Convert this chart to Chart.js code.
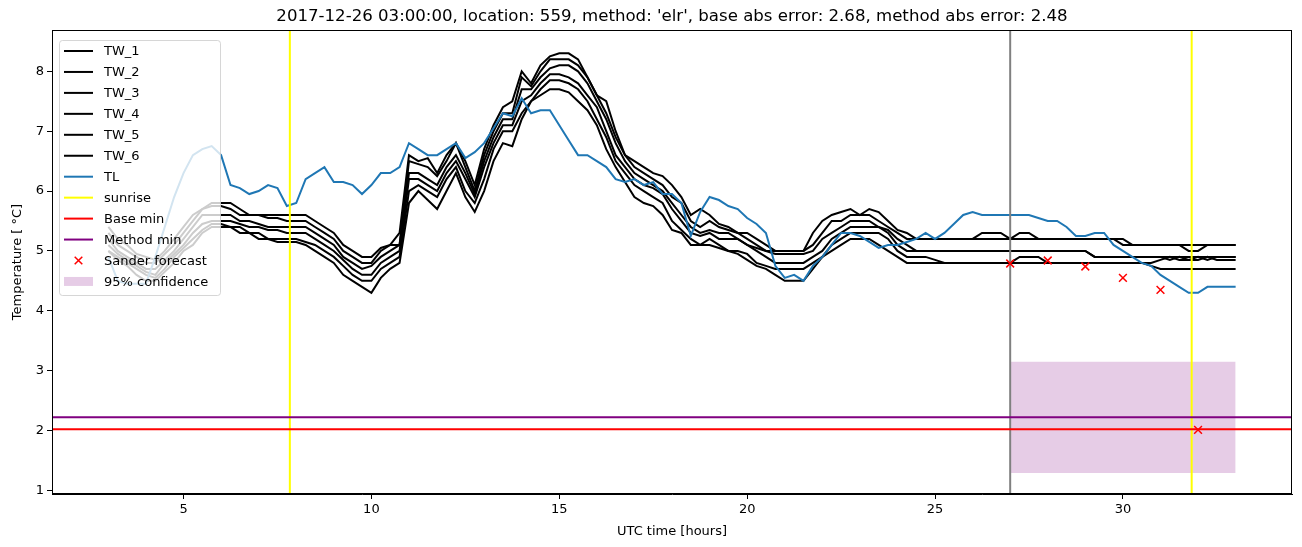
<!DOCTYPE html>
<html>
<head>
<meta charset="utf-8">
<script src="https://cdn.jsdelivr.net/npm/chart.js@4.4.1/dist/chart.umd.min.js"></script>
<style>
	html, body { margin: 0; padding: 0; background: #fff; }
	canvas { display: block; }
</style>
</head>
<body>
<canvas id="canvas" width="1302" height="547"></canvas>
<script>
// time axis: every quarter hour from 03:00 to 33:00
var hours = [];
for (var i = 0; i <= 120; i++) hours.push(3 + i / 4);

var xTicks = [5, 10, 15, 20, 25, 30];
var yTicks = [1, 2, 3, 4, 5, 6, 7, 8];

var titleText = "2017-12-26 03:00:00, location: 559, method: 'elr', base abs error: 2.68, method abs error: 2.48";

// one row per hour (4 quarter-hour values), last value is 33:00
var tw1 = [
	5.4, 5.2, 5.1, 4.95,   4.9, 4.85, 5.0, 5.2,   5.4, 5.6, 5.7, 5.8,
	5.8, 5.8, 5.7, 5.6,    5.6, 5.6, 5.6, 5.6,    5.6, 5.6, 5.5, 5.4,
	5.3, 5.1, 5.0, 4.9,    4.9, 5.05, 5.1, 5.3,   6.6, 6.5, 6.55, 6.3,
	6.6, 6.8, 6.5, 6.1,    6.7, 7.1, 7.4, 7.5,    8.0, 7.8, 8.1, 8.25,
	8.3, 8.3, 8.2, 7.9,    7.6, 7.5, 7.0, 6.6,    6.5, 6.4, 6.3, 6.25,
	6.1, 5.9, 5.6, 5.7,    5.6, 5.45, 5.4, 5.3,   5.3, 5.2, 5.1, 5.0,
	5.0, 5.0, 5.0, 5.3,    5.5, 5.6, 5.65, 5.7,   5.6, 5.7, 5.65, 5.5,
	5.35, 5.3, 5.2, 5.2,   5.2, 5.2, 5.2, 5.2,    5.2, 5.3, 5.3, 5.3,
	5.2, 5.2, 5.2, 5.2,    5.2, 5.2, 5.2, 5.2,    5.2, 5.2, 5.2, 5.2,
	5.2, 5.1, 5.1, 5.1,    5.1, 5.1, 5.1, 5.1,    5.1, 5.1, 5.1, 5.1,
	5.1
];
var tw2 = [
	5.3, 5.1, 5.0, 4.9,    4.8, 4.8, 4.95, 5.1,   5.3, 5.5, 5.7, 5.75,
	5.75, 5.7, 5.6, 5.6,   5.6, 5.55, 5.55, 5.5,  5.5, 5.5, 5.4, 5.3,
	5.2, 5.0, 4.9, 4.8,    4.8, 5.0, 5.1, 5.1,    6.5, 6.45, 6.4, 6.25,
	6.5, 6.8, 6.4, 6.0,    6.6, 7.0, 7.3, 7.3,    7.9, 7.75, 8.0, 8.2,
	8.2, 8.2, 8.1, 7.9,    7.6, 7.3, 6.9, 6.6,    6.4, 6.3, 6.2, 6.1,
	5.9, 5.8, 5.5, 5.4,    5.5, 5.4, 5.35, 5.3,   5.2, 5.1, 5.0, 5.0,
	5.0, 5.0, 5.0, 5.1,    5.3, 5.5, 5.5, 5.6,    5.6, 5.6, 5.5, 5.4,
	5.3, 5.2, 5.2, 5.2,    5.2, 5.2, 5.2, 5.2,    5.2, 5.2, 5.2, 5.2,
	5.2, 5.3, 5.3, 5.2,    5.2, 5.2, 5.2, 5.2,    5.2, 5.2, 5.2, 5.2,
	5.1, 5.1, 5.1, 5.1,    5.1, 5.1, 5.1, 5.0,    5.0, 5.1, 5.1, 5.1,
	5.1
];
var tw3 = [
	5.2, 5.0, 4.9, 4.8,    4.7, 4.7, 4.85, 5.0,   5.2, 5.4, 5.6, 5.6,
	5.6, 5.6, 5.5, 5.5,    5.45, 5.4, 5.4, 5.4,   5.4, 5.4, 5.3, 5.2,
	5.1, 4.9, 4.8, 4.7,    4.75, 4.9, 5.0, 5.1,   6.3, 6.3, 6.2, 6.1,
	6.4, 6.6, 6.3, 5.95,   6.5, 6.9, 7.2, 7.2,    7.7, 7.7, 7.9, 8.05,
	8.1, 8.1, 8.0, 7.8,    7.5, 7.2, 6.8, 6.5,    6.3, 6.2, 6.1, 6.0,
	5.8, 5.6, 5.4, 5.3,    5.35, 5.3, 5.3, 5.2,   5.1, 5.05, 5.0, 4.95,
	4.95, 4.95, 4.95, 5.0, 5.2, 5.3, 5.4, 5.5,    5.5, 5.5, 5.4, 5.35,
	5.2, 5.1, 5.0, 5.0,    5.0, 5.0, 5.0, 5.0,    5.0, 5.0, 5.0, 5.0,
	5.0, 5.0, 5.0, 5.0,    5.0, 5.0, 5.0, 5.0,    5.0, 4.9, 4.9, 4.9,
	4.9, 4.9, 4.9, 4.9,    4.9, 4.9, 4.9, 4.9,    4.9, 4.9, 4.9, 4.9,
	4.9
];
var tw4 = [
	5.1, 4.95, 4.85, 4.75, 4.65, 4.6, 4.8, 4.95,  5.1, 5.3, 5.45, 5.5,
	5.5, 5.5, 5.45, 5.4,   5.4, 5.35, 5.35, 5.3,  5.3, 5.3, 5.2, 5.1,
	5.0, 4.85, 4.7, 4.6,   4.6, 4.8, 4.9, 5.0,    6.2, 6.2, 6.1, 6.0,
	6.3, 6.5, 6.2, 5.9,    6.4, 6.8, 7.1, 7.1,    7.5, 7.6, 7.8, 7.95,
	7.95, 7.9, 7.8, 7.6,   7.4, 7.0, 6.6, 6.4,    6.2, 6.1, 6.05, 5.95,
	5.7, 5.5, 5.3, 5.25,   5.3, 5.2, 5.2, 5.2,    5.1, 5.0, 4.9, 4.8,
	4.8, 4.8, 4.8, 4.9,    5.0, 5.2, 5.3, 5.4,    5.4, 5.4, 5.4, 5.3,
	5.1, 5.0, 5.0, 5.0,    5.0, 5.0, 5.0, 5.0,    5.0, 5.0, 5.0, 5.0,
	5.0, 5.0, 5.0, 5.0,    5.0, 5.0, 5.0, 5.0,    5.0, 4.9, 4.9, 4.9,
	4.9, 4.9, 4.9, 4.9,    4.9, 4.85, 4.9, 4.85,  4.9, 4.85, 4.9, 4.9,
	4.9
];
var tw5 = [
	5.0, 4.9, 4.8, 4.7,    4.6, 4.55, 4.7, 4.9,   5.05, 5.2, 5.35, 5.45,
	5.45, 5.4, 5.4, 5.3,   5.3, 5.2, 5.2, 5.2,    5.2, 5.15, 5.1, 5.0,
	4.9, 4.75, 4.6, 4.5,   4.5, 4.7, 4.8, 4.9,    6.0, 6.1, 6.0, 5.9,
	6.2, 6.4, 6.0, 5.8,    6.2, 6.7, 7.0, 7.0,    7.3, 7.5, 7.7, 7.85,
	7.85, 7.8, 7.7, 7.5,   7.2, 6.9, 6.5, 6.3,    6.1, 6.0, 5.9, 5.8,
	5.5, 5.35, 5.2, 5.1,   5.2, 5.1, 5.0, 5.0,    4.95, 4.8, 4.75, 4.7,
	4.7, 4.7, 4.7, 4.8,    4.9, 5.1, 5.2, 5.3,    5.3, 5.3, 5.3, 5.2,
	5.0, 4.9, 4.9, 4.9,    4.85, 4.8, 4.8, 4.8,   4.8, 4.8, 4.8, 4.8,
	4.8, 4.9, 4.9, 4.9,    4.8, 4.8, 4.8, 4.8,    4.8, 4.8, 4.8, 4.8,
	4.8, 4.8, 4.8, 4.8,    4.85, 4.9, 4.85, 4.85, 4.85, 4.9, 4.85, 4.85,
	4.85
];
var tw6 = [
	5.0, 4.85, 4.75, 4.6,  4.5, 4.5, 4.65, 4.8,   5.0, 5.1, 5.3, 5.4,
	5.4, 5.4, 5.3, 5.3,    5.2, 5.2, 5.15, 5.15,  5.15, 5.1, 5.0, 4.9,
	4.8, 4.6, 4.5, 4.4,    4.3, 4.55, 4.7, 4.8,   5.8, 6.0, 5.85, 5.7,
	6.0, 6.3, 5.9, 5.65,   6.0, 6.5, 6.8, 6.75,   7.2, 7.5, 7.6, 7.7,
	7.7, 7.65, 7.5, 7.35,  7.1, 6.7, 6.4, 6.15,   5.9, 5.8, 5.75, 5.6,
	5.35, 5.3, 5.1, 5.1,   5.1, 5.05, 5.0, 4.95,  4.85, 4.75, 4.7, 4.6,
	4.5, 4.5, 4.5, 4.7,    4.9, 5.0, 5.1, 5.2,    5.2, 5.2, 5.1, 5.0,
	4.9, 4.8, 4.8, 4.8,    4.8, 4.8, 4.8, 4.8,    4.8, 4.8, 4.8, 4.8,
	4.8, 4.8, 4.8, 4.8,    4.8, 4.8, 4.8, 4.8,    4.8, 4.8, 4.8, 4.8,
	4.8, 4.8, 4.8, 4.75,   4.7, 4.7, 4.7, 4.7,    4.7, 4.7, 4.7, 4.7,
	4.7
];
var tl = [
	4.9, 4.5, 4.45, 4.45,  4.45, 4.9, 5.4, 5.9,   6.3, 6.6, 6.7, 6.75,
	6.6, 6.1, 6.05, 5.95,  6.0, 6.1, 6.05, 5.75,  5.8, 6.2, 6.3, 6.4,
	6.15, 6.15, 6.1, 5.95, 6.1, 6.3, 6.3, 6.4,    6.8, 6.7, 6.6, 6.6,
	6.7, 6.8, 6.55, 6.65,  6.8, 7.05, 7.3, 7.25,  7.55, 7.3, 7.35, 7.35,
	7.1, 6.85, 6.6, 6.6,   6.5, 6.4, 6.2, 6.15,   6.2, 6.1, 6.15, 5.95,
	5.95, 5.8, 5.25, 5.65, 5.9, 5.85, 5.75, 5.7,  5.55, 5.45, 5.3, 4.75,
	4.55, 4.6, 4.5, 4.75,  4.9, 5.1, 5.3, 5.3,    5.25, 5.15, 5.05, 5.1,
	5.1, 5.15, 5.2, 5.3,   5.2, 5.3, 5.45, 5.6,   5.65, 5.6, 5.6, 5.6,
	5.6, 5.6, 5.6, 5.55,   5.5, 5.5, 5.4, 5.25,   5.25, 5.3, 5.3, 5.1,
	5.0, 4.9, 4.8, 4.75,   4.6, 4.5, 4.4, 4.3,    4.3, 4.4, 4.4, 4.4,
	4.4
];

var sunriseHours   = [7.83, 31.83];
var forecastStart  = 27;
var baseMin        = 2.02;
var methodMin      = 2.22;
var sanderHours    = [27, 28, 29, 30, 31, 32];
var sanderValues   = [4.79, 4.84, 4.74, 4.55, 4.35, 2.01];
var confHours      = [27, 33];
var confLow        = 1.29;
var confHigh       = 3.15;

var xMin = 1.5, xMax = 34.5, yMin = 0.94, yMax = 8.69;

function series(vals) {
	return hours.map(function(h, i) { return {x: h, y: vals[i]}; });
}
function vline(x) { return [{x: x, y: yMin}, {x: x, y: yMax}]; }
function hline(y) { return [{x: xMin, y: y}, {x: xMax, y: y}]; }

var font = "'DejaVu Sans', 'Liberation Sans', sans-serif";

var datasets = [];
[tw1, tw2, tw3, tw4, tw5, tw6].forEach(function(v, i) {
	datasets.push({ label: 'TW_' + (i + 1), data: series(v), borderColor: '#000', borderWidth: 2,
		pointRadius: 0, inLegend: 'line', order: 20 - i });
});
datasets.push({ label: 'TL', data: series(tl), borderColor: '#1f77b4', borderWidth: 2,
	pointRadius: 0, inLegend: 'line', order: 10 });
sunriseHours.forEach(function(h, i) {
	datasets.push({ label: 'sunrise', data: vline(h), borderColor: '#ffff00', borderWidth: 2,
		pointRadius: 0, inLegend: i === 0 ? 'line' : null, order: 8 });
});
datasets.push({ label: 'now', data: vline(forecastStart), borderColor: '#808080', borderWidth: 2,
	pointRadius: 0, order: 8 });
datasets.push({ label: 'Base min', data: hline(baseMin), borderColor: '#ff0000', borderWidth: 2,
	pointRadius: 0, inLegend: 'line', order: 7 });
datasets.push({ label: 'Method min', data: hline(methodMin), borderColor: '#800080', borderWidth: 2,
	pointRadius: 0, inLegend: 'line', order: 6 });
datasets.push({ label: 'Sander forecast',
	data: sanderHours.map(function(h, i) { return {x: h, y: sanderValues[i]}; }),
	showLine: false, pointStyle: 'crossRot', pointRadius: 5.5, borderColor: '#ff0000',
	backgroundColor: '#ff0000', pointBorderWidth: 1.5, inLegend: 'cross', order: 1 });
datasets.push({ label: '95% confidence',
	data: confHours.map(function(h) { return {x: h, y: confHigh}; }),
	fill: { value: confLow }, backgroundColor: 'rgba(128,0,128,0.2)', borderWidth: 0,
	pointRadius: 0, inLegend: 'patch', order: 50 });

// box round the plot area, like the matplotlib spines, and the title over it
var frame = {
	id: 'frame',
	afterDatasetsDraw: function(chart) {
		var a = chart.chartArea, ctx = chart.ctx;
		ctx.save();
		ctx.strokeStyle = '#000';
		ctx.lineWidth = 1;
		ctx.strokeRect(a.left + 0.5, a.top + 0.5, a.right - a.left - 1, a.bottom - a.top - 1);
		ctx.fillStyle = '#000';
		ctx.font = '16.6px ' + font;
		ctx.textAlign = 'center';
		ctx.textBaseline = 'middle';
		ctx.fillText(titleText, (a.left + a.right) / 2, a.top - 13);
		ctx.restore();
	}
};

// legend inside the axes, upper left
var boxLegend = {
	id: 'boxLegend',
	afterDraw: function(chart) {
		var ctx = chart.ctx, a = chart.chartArea;
		var items = chart.data.datasets.filter(function(d) { return d.inLegend; });
		var x0 = a.left + 7, y0 = a.top + 10, w = 161, rowH = 20.95;
		var h = items.length * rowH + 3.6;
		ctx.save();
		ctx.beginPath();
		ctx.roundRect(x0 + 0.5, y0 + 0.5, w, h, 3);
		ctx.fillStyle = 'rgba(255,255,255,0.8)';
		ctx.fill();
		ctx.strokeStyle = 'rgba(204,204,204,0.8)';
		ctx.lineWidth = 1;
		ctx.stroke();
		ctx.font = '13px ' + font;
		ctx.textBaseline = 'middle';
		items.forEach(function(d, i) {
			var cy = y0 + 11 + i * rowH;
			var hx0 = x0 + 5, hx1 = x0 + 34;
			if (d.inLegend === 'line') {
				ctx.strokeStyle = d.borderColor;
				ctx.lineWidth = 2;
				ctx.beginPath();
				ctx.moveTo(hx0, cy);
				ctx.lineTo(hx1, cy);
				ctx.stroke();
			} else if (d.inLegend === 'cross') {
				var cx = (hx0 + hx1) / 2, r = 3.8;
				ctx.strokeStyle = d.borderColor;
				ctx.lineWidth = 1.5;
				ctx.beginPath();
				ctx.moveTo(cx - r, cy - r); ctx.lineTo(cx + r, cy + r);
				ctx.moveTo(cx - r, cy + r); ctx.lineTo(cx + r, cy - r);
				ctx.stroke();
			} else {
				ctx.fillStyle = d.backgroundColor;
				ctx.fillRect(hx0, cy - 4.5, hx1 - hx0, 9);
			}
			ctx.fillStyle = '#000';
			ctx.fillText(d.label, x0 + 45, cy + 1);
		});
		ctx.restore();
	}
};

var ctx = document.getElementById('canvas').getContext('2d');
var chart = new Chart(ctx, {
	type: 'line',
	data: { datasets: datasets },
	plugins: [frame, boxLegend],
	options: {
		responsive: false,
		animation: false,
		devicePixelRatio: 1,
		layout: { padding: { left: 0, right: 10, top: 30, bottom: 0 } },
		elements: { line: { tension: 0 } },
		plugins: {
			legend: { display: false },
			tooltip: { enabled: false },
			title: { display: false }
		},
		scales: {
			x: {
				type: 'linear', min: xMin, max: xMax,
				afterBuildTicks: function(s) { s.ticks = xTicks.map(function(v) { return {value: v}; }); },
				afterFit: function(s) { s.height = 53; },
				ticks: { color: '#000', font: { family: font, size: 13 }, padding: 3, maxRotation: 0, autoSkip: false },
				grid: { drawOnChartArea: false, tickLength: 5, tickColor: '#000', tickWidth: 1 },
				border: { color: '#000', width: 1 },
				title: { display: true, text: 'UTC time [hours]', color: '#000',
					font: { family: font, size: 13 }, padding: { top: 0, bottom: 8 } }
			},
			y: {
				type: 'linear', min: yMin, max: yMax,
				afterBuildTicks: function(s) { s.ticks = yTicks.map(function(v) { return {value: v}; }); },
				afterFit: function(s) { s.width = 52; },
				ticks: { color: '#000', font: { family: font, size: 13 }, padding: 3, autoSkip: false },
				grid: { drawOnChartArea: false, tickLength: 5, tickColor: '#000', tickWidth: 1 },
				border: { color: '#000', width: 1 },
				title: { display: true, text: 'Temperature [ °C]', color: '#000',
					font: { family: font, size: 13 }, padding: { top: 10, bottom: 10 } }
			}
		}
	}
});
</script>
</body>
</html>
